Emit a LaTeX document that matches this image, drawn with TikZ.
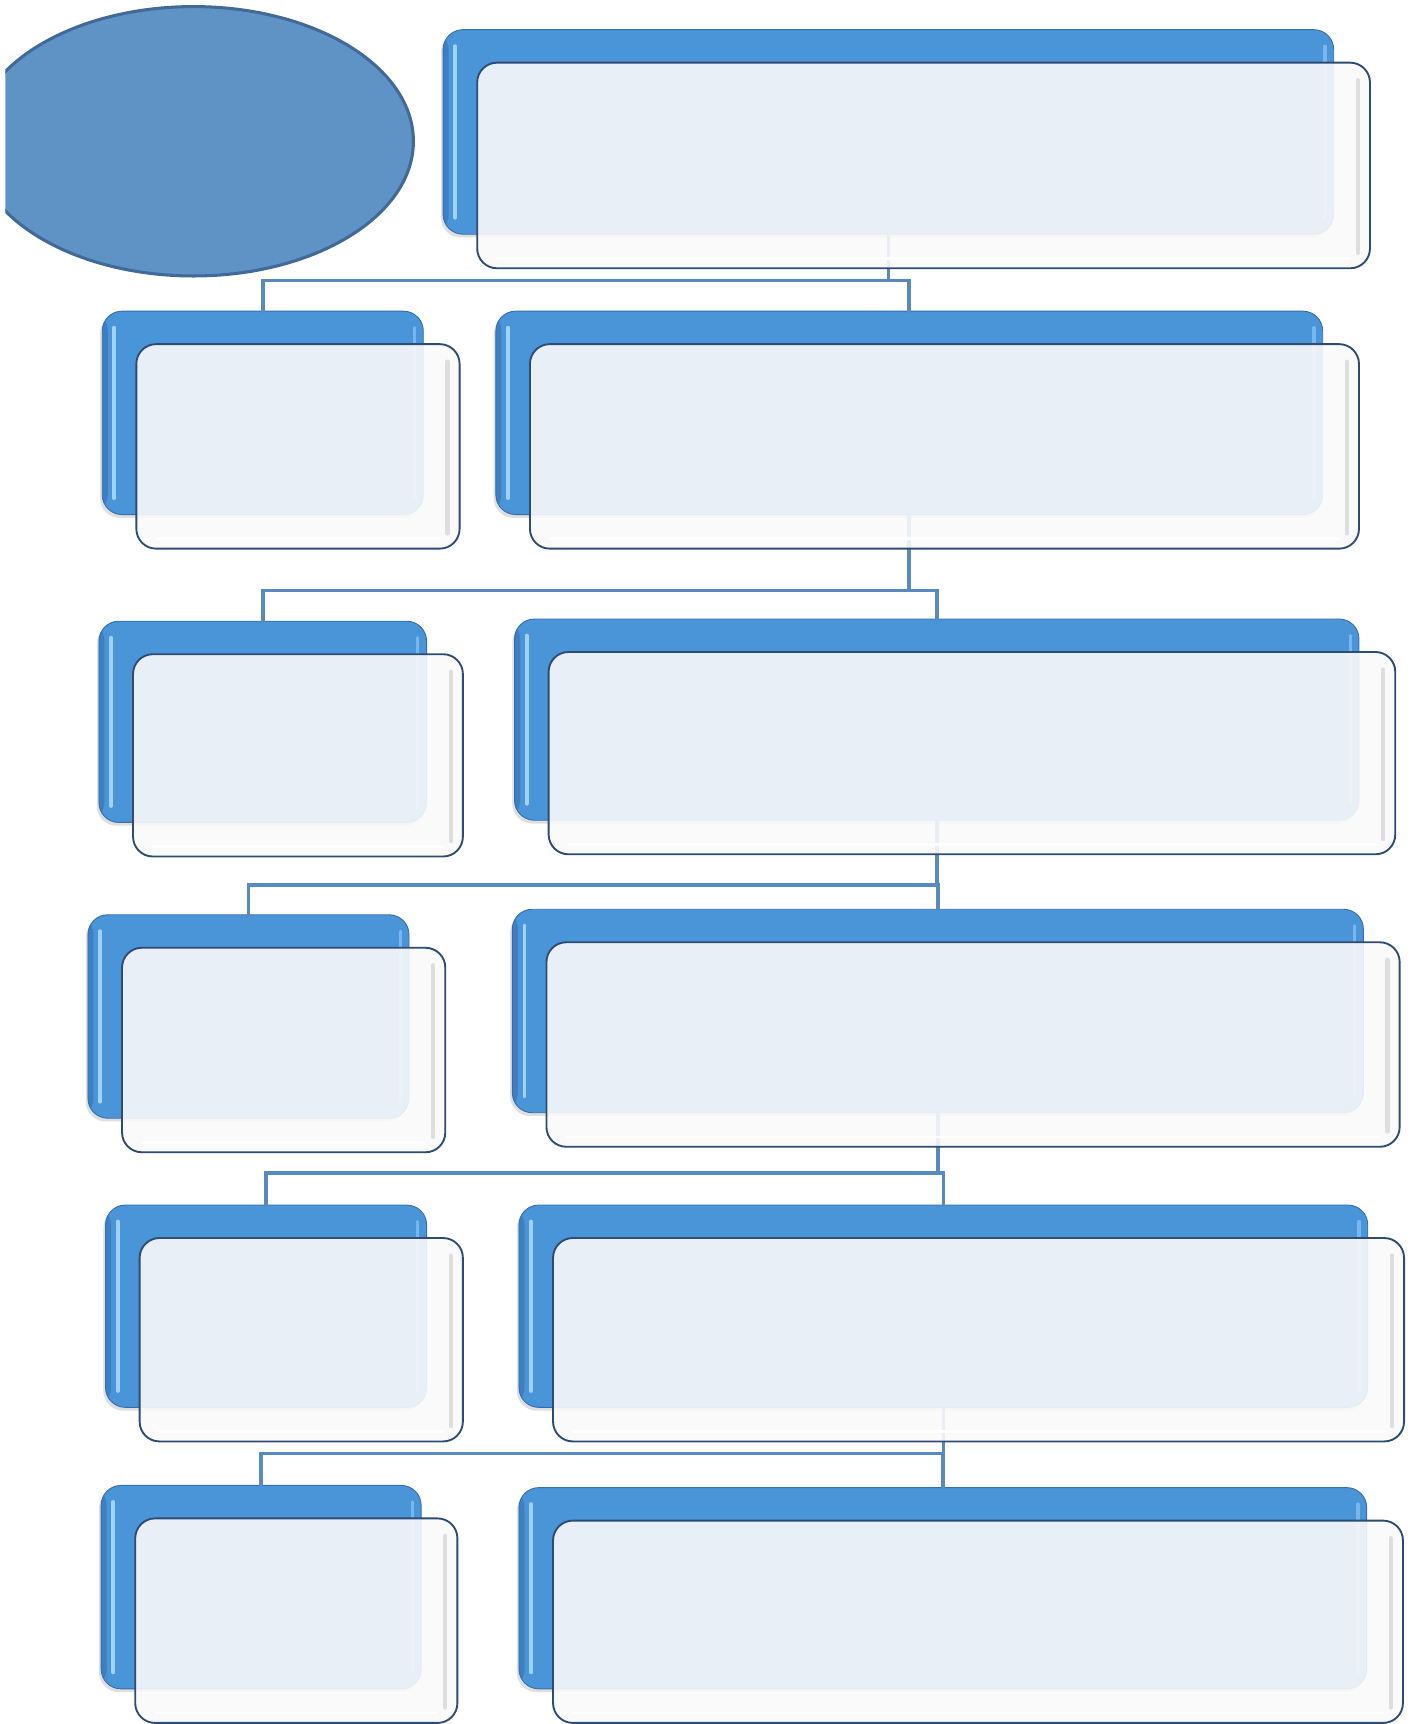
\documentclass[tikz,border=0pt]{standalone}
\usetikzlibrary{calc,shapes.geometric,shadows}
\definecolor{backfill}{RGB}{74,148,216}
\definecolor{backedge}{RGB}{52,110,172}
\definecolor{backdark}{RGB}{55,114,180}
\definecolor{backhl}{RGB}{160,210,255}
\definecolor{frontfill}{RGB}{250,249,250}
\definecolor{frontedge}{RGB}{45,75,115}
\definecolor{connc}{RGB}{88,138,192}
\definecolor{ellfill}{RGB}{95,147,198}
\definecolor{elledge}{RGB}{65,106,152}
\tikzset{
  backbox/.style={rectangle, rounded corners=18pt, inner sep=0pt, outer sep=0pt,
    anchor=north west, fill=backfill, draw=backedge, line width=0.8pt,
    drop shadow={shadow xshift=-2pt, shadow yshift=-3pt, opacity=0.25},
    path picture={
      \fill[backdark, opacity=0.6] (path picture bounding box.north west) rectangle ([xshift=5pt]path picture bounding box.south west);
      \draw[backhl, line width=3.5pt, line cap=round] ([shift={(11pt,-15pt)}]path picture bounding box.north west) -- ([shift={(11pt,15pt)}]path picture bounding box.south west);
      \draw[backhl, opacity=0.55, line width=3pt, line cap=round] ([shift={(-8pt,-15pt)}]path picture bounding box.north east) -- ([shift={(-8pt,15pt)}]path picture bounding box.south east);
    }},
  frontbox/.style={rectangle, rounded corners=18pt, inner sep=0pt, outer sep=0pt,
    anchor=north west, fill=frontfill, fill opacity=0.9, draw=frontedge, line width=1.7pt,
    path picture={
      \draw[black!13, line width=4pt, line cap=round] ([shift={(-11pt,-16pt)}]path picture bounding box.north east) -- ([shift={(-11pt,14pt)}]path picture bounding box.south east);
      \draw[white, line width=2.5pt, line cap=round] ([shift={(18pt,9pt)}]path picture bounding box.south west) -- ([shift={(-18pt,9pt)}]path picture bounding box.south east);
    }},
  conn/.style={draw=connc, line width=3.3pt, line cap=rect},
  oval/.style={ellipse, inner sep=0pt, fill=ellfill, draw=elledge, line width=2.8pt}
}
\newcommand\backcard[5]{%
  \pgfmathsetmacro\cardw{#4-#2}\pgfmathsetmacro\cardh{#5-#3}%
  \node[backbox, minimum width=\cardw pt, minimum height=\cardh pt] (#1b) at (#2,#3) {};
}
\newcommand\frontcard[1]{%
  \path let \p1=($(#1b.north east)-(#1b.south west)$) in
    node[frontbox, minimum width=\x1+2pt, minimum height=\y1+1pt] (#1f) at ([shift={(31pt,-30pt)}]#1b.north west) {};
}
\begin{document}
\begin{tikzpicture}[x=1pt,y=-1pt]
\useasboundingbox (0,0) rectangle (1284,1568);
% ellipse clipped at left edge
\begin{scope}
  \clip (5,-20) rectangle (500,300);
  \node[oval, minimum width=400pt, minimum height=245pt] (e) at (176,128.5) {};
\end{scope}
% back cards
\backcard{T}{403}{27}{1213}{213}
\backcard{La}{93}{283}{385}{468}
\backcard{Ra}{451}{283}{1203}{468}
\backcard{Lb}{90}{565}{388}{748}
\backcard{Rb}{468}{563}{1236}{746}
\backcard{Lc}{80}{832}{372}{1017}
\backcard{Rc}{466}{827}{1240}{1012}
\backcard{Ld}{96}{1096}{388}{1280}
\backcard{Rd}{472}{1096}{1244}{1280}
\backcard{Le}{92}{1351}{383}{1536}
\backcard{Re}{472}{1353}{1243}{1536}
% connectors
\coordinate (h1) at ($(Lab.north)+(0,-28)$);
\draw[conn] (Tb.south) -- (Tb.south |- h1);
\draw[conn] (Lab.north) -- (h1) -| (Rab.north);
\coordinate (h2) at ($(Lbb.north)+(0,-28)$);
\draw[conn] (Rab.south) -- (Rab.south |- h2);
\draw[conn] (Lbb.north) -- (h2) -| (Rbb.north);
\coordinate (h3) at ($(Rcb.north)+(0,-22)$);
\draw[conn] (Rbb.south) -- (Rbb.south |- h3);
\draw[conn] (Lcb.north) |- (h3) -| (Rcb.north);
\coordinate (h4) at ($(Ldb.north)+(0,-29)$);
\draw[conn] (Rcb.south) -- (Rcb.south |- h4);
\draw[conn] (Ldb.north) -- (h4) -| (Rdb.north);
\coordinate (h5) at ($(Leb.north)+(0,-29)$);
\draw[conn] (Rdb.south) -- (Rdb.south |- h5);
\draw[conn] (Leb.north) -- (h5) -| (Reb.north);
% front cards
\frontcard{T}
\frontcard{La}
\frontcard{Ra}
\frontcard{Lb}
\frontcard{Rb}
\frontcard{Lc}
\frontcard{Rc}
\frontcard{Ld}
\frontcard{Rd}
\frontcard{Le}
\frontcard{Re}
\end{tikzpicture}
\end{document}
